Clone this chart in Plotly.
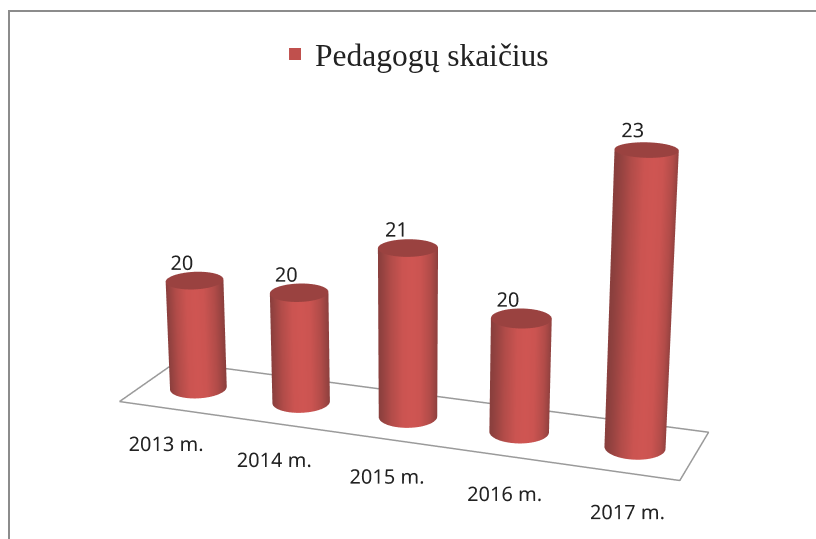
import numpy as np
import plotly.graph_objects as go

categories = ["2013 m.", "2014 m.", "2015 m.", "2016 m.", "2017 m."]
values = [20, 20, 21, 20, 23]
series_name = "Pedagogų skaičius"

BASE = 18
RX, RY = 0.25, 0.24
BODY = "#c0504d"
W, VH = 816, 539
H = 1600      # a tall viewport narrows the perspective
SHIFT = 500   # page is moved up by this many pixels so the scene centre is in view
PEAK = np.deg2rad(-62)

theta = np.linspace(0, 2 * np.pi, 181)
scale = [[0, "#8a3f3d"], [0.35, "#b24c49"], [0.7, "#cb5451"], [1, "#cf5552"]]
fig = go.Figure()
flat = dict(ambient=1, diffuse=0, specular=0, fresnel=0, roughness=1)

for i, v in enumerate(values):
    cx, cy = i + 0.5, 0.5
    T, Z = np.meshgrid(theta, np.array([BASE, v], dtype=float))
    X = cx + RX * np.cos(T)
    Y = cy + RY * np.sin(T)
    fig.add_trace(go.Surface(x=X, y=Y, z=Z, surfacecolor=1 - np.abs(np.sin(T - PEAK)), colorscale=scale, cmin=0, cmax=1,
                             showscale=False, lighting=flat, hoverinfo="skip", showlegend=False))
    TT, RR = np.meshgrid(theta, np.array([0, 1.0]))
    fig.add_trace(go.Surface(x=cx + RX * RR * np.cos(TT), y=cy + RY * RR * np.sin(TT), z=np.full(TT.shape, float(v)),
                             surfacecolor=np.zeros(TT.shape), colorscale=[[0, "#9a4240"], [1, "#9a4240"]],
                             showscale=False, lighting=flat, hoverinfo="skip", showlegend=False))

n = len(categories)
fig.add_trace(go.Scatter3d(x=[0, n, n, 0, 0], y=[0, 0, 1, 1, 0], z=[BASE] * 5, mode="lines",
                           line=dict(color="#9a9a9a", width=3), hoverinfo="skip", showlegend=False))
fig.add_trace(go.Scatter3d(x=[i + 0.38 for i in range(n)], y=[0.5] * n, z=[v + 0.3 for v in values],
                           mode="text", text=[str(v) for v in values], textposition="middle center",
                           textfont=dict(family="Noto Sans", size=20, color="#222222"),
                           hoverinfo="skip", showlegend=False))
fig.add_trace(go.Scatter3d(x=[i + 0.70 for i in range(n)], y=[-0.45] * n, z=[BASE - 0.22] * n,
                           mode="text", text=categories, textposition="middle center",
                           textfont=dict(family="Noto Sans", size=20, color="#222222"),
                           hoverinfo="skip", showlegend=False))
fig.add_trace(go.Scatter(x=[None], y=[None], mode="markers", name=series_name,
                         marker=dict(symbol="square", size=16, color=BODY)))

ax = dict(visible=False)
fig.update_layout(
    width=W, height=H, margin=dict(l=0, r=0, t=0, b=0), paper_bgcolor="white", plot_bgcolor="rgba(0,0,0,0)",
    showlegend=True,
    xaxis=dict(visible=False), yaxis=dict(visible=False),
    legend=dict(orientation="h", x=0.508, xanchor="center", y=1 - (SHIFT + 54) / H, yanchor="middle",
                bgcolor="rgba(0,0,0,0)",
                font=dict(family="Liberation Serif", size=31.5, color="#222222"), itemsizing="constant"),
    scene=dict(
        domain=dict(x=[0, 1], y=[0, 1]),
        xaxis=dict(ax, range=[0, 5]), yaxis=dict(ax, range=[-0.5, 1.5]), zaxis=dict(ax, range=[17.5, 24]),
        aspectmode="manual", aspectratio=dict(x=2.41, y=1.05, z=1.58),
        camera=dict(eye=dict(x=2.60, y=-7.0, z=2.27), center=dict(x=0.0, y=0, z=-0.16),
                    projection=dict(type="perspective")),
    ),
    shapes=[dict(type="path", xref="paper", yref="paper",
                 path=f"M {9/W} {1-(SHIFT+VH)/H} L {9/W} {1-(SHIFT+11)/H} L 1 {1-(SHIFT+11)/H}",
                 line=dict(color="#8c8c8c", width=2))],
)
fig.write_html("out.html", config=dict(displayModeBar=False), post_script=
    f"document.documentElement.style.overflow='hidden';document.body.style.overflow='hidden';"
    f"document.body.style.margin='0';document.body.style.marginTop='-{SHIFT}px';")
